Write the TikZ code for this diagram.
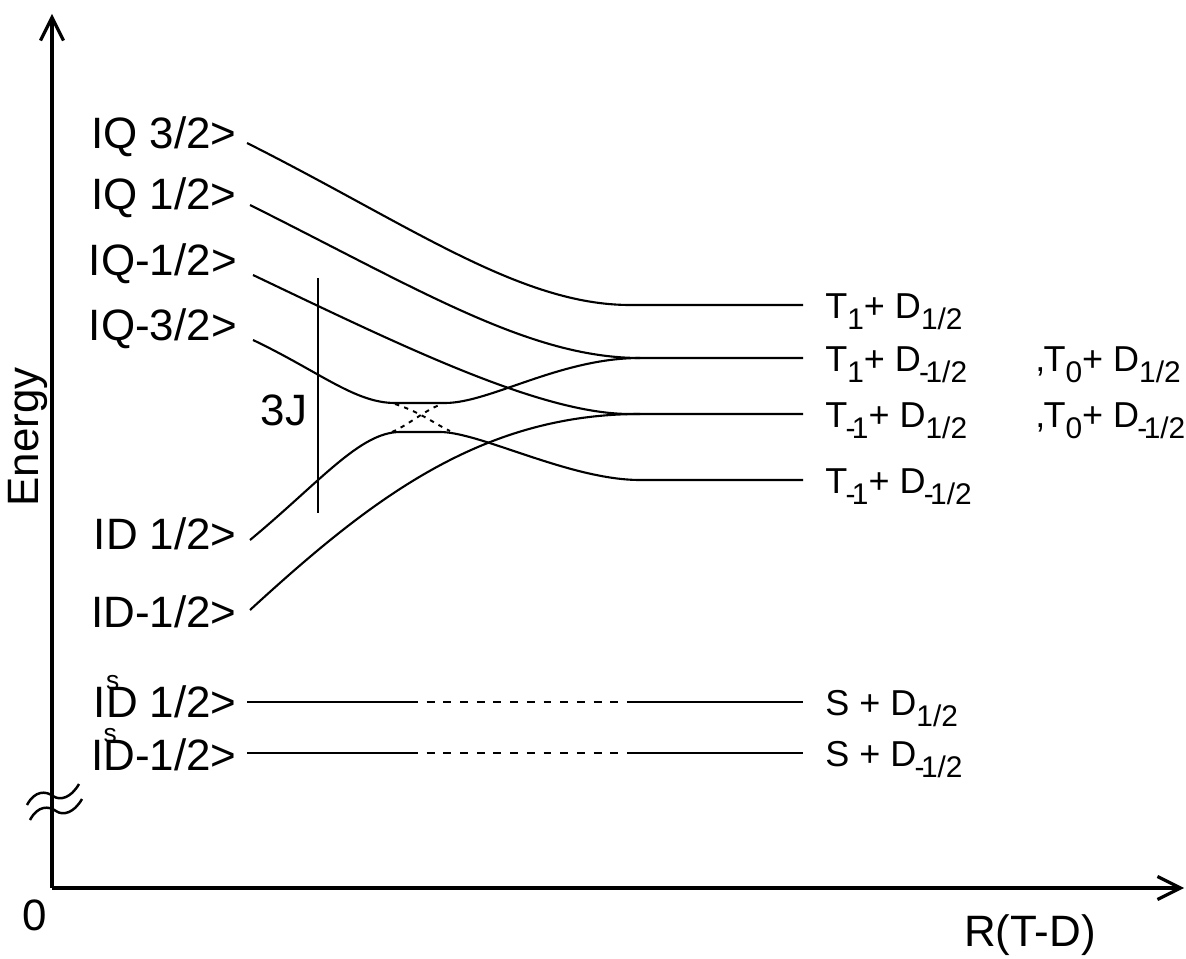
\documentclass[tikz,border=0pt]{standalone}
\usepackage{fontspec}
\setmainfont{Liberation Sans}
\usetikzlibrary{arrows.meta, positioning}
\newcommand{\sub}[1]{\raisebox{-0.32em}{\fontsize{17}{17}\selectfont #1}}
\newcommand{\mn}{\kern-0.06em-\kern-0.12em}
\newcommand{\kets}{I\rlap{\raisebox{0.64em}{\fontsize{15}{15}\selectfont s}}}

\begin{document}
\begin{tikzpicture}[
    x=0.02cm, y=-0.02cm,
    level/.style={line width=1.2pt},
    axis/.style={line width=1.8pt},
    dotx/.style={line width=1.1pt, dash pattern=on 2.5pt off 3pt},
    gap/.style={line width=1.2pt, dash pattern=on 4.5pt off 5pt},
    lbl/.style={inner sep=0pt, anchor=east, text height=18pt, text depth=0pt, font=\fontsize{25}{30}\selectfont},
    rlbl/.style={inner sep=0pt, text height=15pt, text depth=0pt, font=\fontsize{20.5}{25}\selectfont},
    txt/.style={inner sep=0pt, font=\fontsize{25}{30}\selectfont},
    >={Straight Barb[length=0.46cm, width=0.46cm]}
]
\useasboundingbox (0,0) rectangle (1186,959);

% axes
\coordinate (origin) at (52,888);
\coordinate (ytop) at (52,14);
\coordinate (xend) at (1184,888);
\draw[axis, ->] (origin) -- (ytop);
\draw[axis, ->] (origin) -- (xend);
\draw[line width=1.4pt] (27,805) .. controls (35,790) and (46,791) .. (53,796) .. controls (60,801) and (71,798) .. (79,784);
\draw[line width=1.4pt] (30,820) .. controls (38,805) and (49,806) .. (56,811) .. controls (63,816) and (74,813) .. (82,799);
\node[txt, rotate=90] (energy) at (28,437) {Energy};
\node[txt] (zero) at (35,915) {0};
\node[txt] (rtd) at (1030,935) {R(T-D)};

% left states
\node[lbl] (q32) at (237,133) {IQ 3/2>};
\node[lbl] (q12) at (237,194) {IQ 1/2>};
\node[lbl] (qm12) at (237,260) {IQ-1/2>};
\node[lbl] (qm32) at (237,325) {IQ-3/2>};
\node[lbl] (d12) at (237,534) {ID 1/2>};
\node[lbl] (dm12) at (237,612) {ID-1/2>};
\node[lbl] (sd12) at (237,702) {\kets D 1/2>};
\node[lbl] (sdm12) at (237,755) {\kets D-1/2>};

\coordinate (q32a) at (247,143);
\coordinate (q12a) at (250,205);
\coordinate (qm12a) at (253,275);
\coordinate (qm32a) at (253,340);
\coordinate (d12a) at (250,540);
\coordinate (dm12a) at (250,610);
\coordinate (sd12a) at (247,702);
\coordinate (sdm12a) at (247,753);

% right states
\coordinate (lv1) at (803,305);
\coordinate (lv2) at (803,358);
\coordinate (lv3) at (803,414);
\coordinate (lv4) at (803,480);
\coordinate (lv5) at (803,702);
\coordinate (lv6) at (803,753);
\node[rlbl, right=0.44cm of lv1] (t1p) {T\sub{1}+ D\sub{1/2}};
\node[rlbl, right=0.44cm of lv2] (t1m) {\makebox[4.2cm][l]{T\sub{1}+ D\sub{\mn1/2}},\kern-1pt T\sub{0}+ D\sub{1/2}};
\node[rlbl, right=0.44cm of lv3] (tm1p) {\makebox[4.2cm][l]{T\sub{\mn1}+ D\sub{1/2}},\kern-1pt T\sub{0}+ D\sub{\mn1/2}};
\node[rlbl, right=0.44cm of lv4] (tm1m) {T\sub{\mn1}+ D\sub{\mn1/2}};
\node[rlbl, right=0.44cm of lv5] (sp) {S + D\sub{1/2}};
\node[rlbl, right=0.44cm of lv6] (sm) {S + D\sub{\mn1/2}};

% correlation lines
\draw[level] (q32a) .. controls (410,225) and (520,305) .. (630,305) -- (lv1);
\draw[level] (q12a) .. controls (420,290) and (530,358) .. (640,358) -- (lv2);
\draw[level] (qm12a) .. controls (400,345) and (540,414) .. (630,414) -- (lv3);
\draw[level] (qm32a) .. controls (320,372) and (355,403) .. (395,403) -- (445,403)
    .. controls (490,403) and (560,358) .. (640,358);
\draw[level] (d12a) .. controls (320,482) and (360,432) .. (400,432) -- (440,432)
    .. controls (480,432) and (570,480) .. (640,480) -- (lv4);
\draw[level] (dm12a) .. controls (370,500) and (480,414) .. (640,414);
\draw[dotx] (395,404) .. controls (420,412) and (435,424) .. (450,431);
\draw[dotx] (392,432) .. controls (410,424) and (425,410) .. (442,404);

\coordinate (s1b) at (410,702);
\coordinate (s1c) at (633,702);
\coordinate (s2b) at (410,753);
\coordinate (s2c) at (633,753);
\draw[level] (sd12a) -- (s1b);
\draw[gap] (s1b) -- (s1c);
\draw[level] (s1c) -- (lv5);
\draw[level] (sdm12a) -- (s2b);
\draw[gap] (s2b) -- (s2c);
\draw[level] (s2c) -- (lv6);

% 3J splitting
\coordinate (jtop) at (318,278);
\coordinate (jbot) at (318,513);
\draw[line width=1.6pt] (jtop) -- (jbot);
\node[txt] (jlbl) at (284,410) {3J};
\end{tikzpicture}
\end{document}
